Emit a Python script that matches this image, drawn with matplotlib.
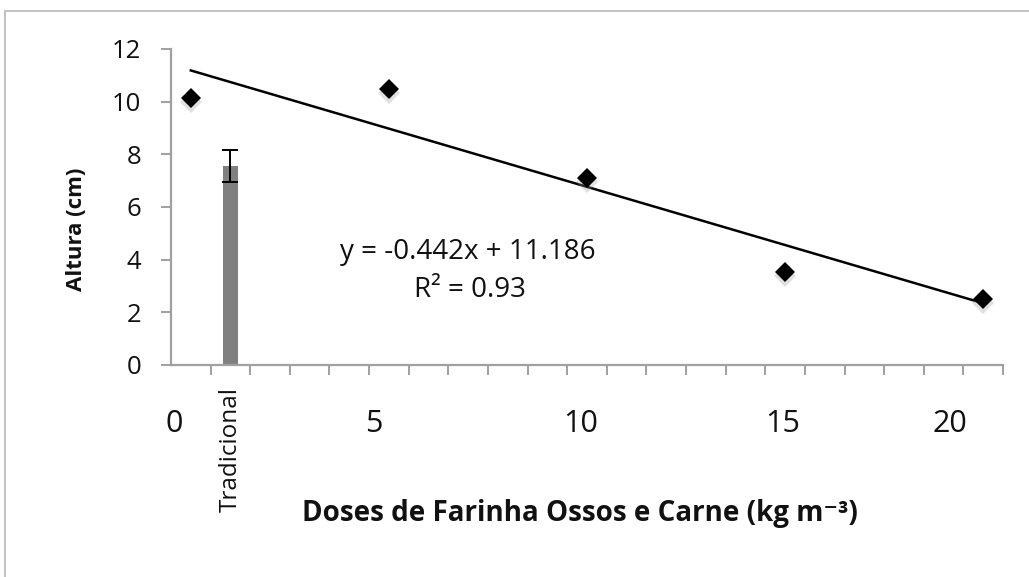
import matplotlib
matplotlib.use("Agg")
import matplotlib.pyplot as plt
from matplotlib.lines import Line2D
from matplotlib.transforms import offset_copy, blended_transform_factory
import numpy as np

plt.rcParams['font.family'] = ['Open Sans', 'DejaVu Sans']

# ---- data ----
doses = [0, 5, 10, 15, 20]
altura = [10.14, 10.48, 7.10, 3.55, 2.51]
trad_x = [1]
trad_altura = [7.56]
trad_err = [0.6]
slope, intercept = -0.442, 11.186
eq_text = "y = -0.442x + 11.186"
r2_text = "R\u00b2 = 0.93"
xtick_labels = ['0', '5', '10', '15', '20']
xtick_label_shift = [-0.42, -0.39, -0.15, -0.05, -0.85]
trad_label = "Tradicional"
ylabel = "Altura (cm)"
xlabel = "Doses de Farinha Ossos e Carne (kg m\u207b\u00b3)"

W, H = 1029, 577
fig = plt.figure(figsize=(W / 100, H / 100), dpi=100)
ax = fig.add_axes([171 / W, 1 - 365 / H, (1003 - 171) / W, (365 - 49) / H])

axis_gray = '#a0a0a0'
txt = '#111111'

# bar + error
ax.bar(trad_x, trad_altura, width=0.4, color='#808080', zorder=2)
ax.errorbar(trad_x, trad_altura, yerr=trad_err, fmt='none', ecolor='black',
            elinewidth=1.4, capsize=6, capthick=1.4, zorder=3)

# trendline
xl = np.array([min(doses), max(doses)])
ax.plot(xl, slope * xl + intercept, color='black', lw=1.8, zorder=3)

# marker shadows
shadow_tr = offset_copy(ax.transData, fig=fig, x=0, y=-3, units='points')
ax.plot(doses, altura, linestyle='none', marker='D', markersize=11.5,
        color='#9a9a9a', alpha=0.3, markeredgewidth=0, transform=shadow_tr, zorder=3)
ax.plot(doses, altura, linestyle='none', marker='D', markersize=10,
        color='black', markeredgewidth=0, zorder=4)

# axes
ax.set_xlim(-0.5, 20.5)
ax.set_ylim(0, 12)
for s in ['top', 'right']:
    ax.spines[s].set_visible(False)
for s in ['left', 'bottom']:
    ax.spines[s].set_color(axis_gray)
    ax.spines[s].set_linewidth(1.6)

ax.set_yticks(np.arange(0, 13, 2))
ax.tick_params(axis='y', direction='out', length=7.5, width=1.4, color=axis_gray,
               labelsize=18.5, pad=14, labelcolor=txt)

ax.set_xticks(np.arange(0.5, 21, 1), minor=True)
ax.tick_params(axis='x', which='minor', direction='out', length=7.5, width=1.4, color=axis_gray)
ax.set_xticks(np.array(doses) + np.array(xtick_label_shift))
ax.set_xticklabels(xtick_labels)
ax.tick_params(axis='x', which='major', length=0, labelsize=22, pad=32, labelcolor=txt)

# category label
btr = blended_transform_factory(ax.transData, ax.transAxes)
ax.text(trad_x[0], -0.07, trad_label, rotation=90, ha='center', va='top',
        fontsize=17.5, transform=btr, color=txt)

# equation
ax.text(0.357, 0.357, eq_text, ha='center', va='center', fontsize=20,
        transform=ax.transAxes, color=txt)
ax.text(0.359, 0.237, r2_text, ha='center', va='center', fontsize=20,
        transform=ax.transAxes, color=txt)

# labels
ax.set_ylabel(ylabel, fontsize=16, fontweight='bold', va='center', color=txt)
ax.yaxis.set_label_coords((77 - 171) / 832, (365 - 229) / 316)
ax.set_xlabel(xlabel, fontsize=20, fontweight='bold', va='center', color=txt)
ax.xaxis.set_label_coords((579.5 - 171) / 832, (365 - 513) / 316)

# figure border
fig.add_artist(Line2D([5 / W, 5 / W], [0, 1 - 11 / H], transform=fig.transFigure,
                      color='#c4c4c4', lw=1.5))
fig.add_artist(Line2D([5 / W, 1], [1 - 11 / H, 1 - 11 / H], transform=fig.transFigure,
                      color='#c4c4c4', lw=1.5))

fig.savefig("out.png", dpi=100)
